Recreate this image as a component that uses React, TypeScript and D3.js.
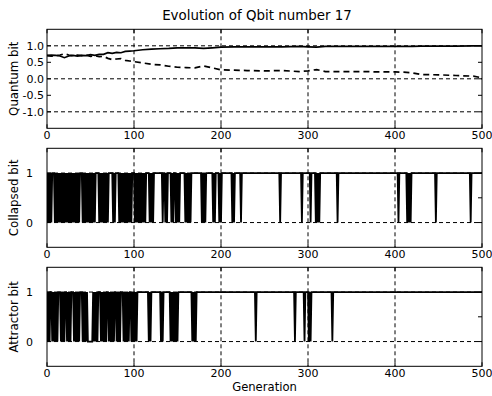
import React from 'react';
import * as d3 from 'd3';

// ---- data ----
const GENS_Q = [0,5,10,15,20,25,30,35,40,45,50,55,60,65,70,75,80,85,90,95,100,110,120,130,140,150,160,170,180,190,200,215,230,250,270,290,300,310,320,340,360,380,400,410,420,430,450,470,490,500];
const BETA = [0.70,0.69,0.70,0.72,0.76,0.72,0.70,0.72,0.70,0.72,0.68,0.70,0.67,0.68,0.62,0.58,0.60,0.61,0.56,0.54,0.52,0.48,0.44,0.42,0.38,0.35,0.34,0.33,0.39,0.33,0.27,0.26,0.25,0.24,0.25,0.22,0.24,0.28,0.22,0.22,0.22,0.21,0.21,0.20,0.18,0.13,0.12,0.10,0.08,0.03];
const ALPHA = [0.71,0.72,0.71,0.69,0.64,0.69,0.71,0.69,0.71,0.70,0.73,0.71,0.74,0.74,0.79,0.77,0.80,0.79,0.83,0.84,0.85,0.88,0.90,0.91,0.92,0.94,0.94,0.94,0.92,0.94,0.96,0.97,0.97,0.97,0.97,0.98,0.97,0.96,0.98,0.98,0.98,0.98,0.98,0.98,0.98,0.99,0.99,0.99,1.0,1.0];

// generations at which the bit was 0
const COLLAPSED_ZEROS = [
  1,3,5,9,11,13,15,17,19,21,23,25,27,29,31,33,35,37,
  41,43,45,47,49,51,53,55,60,62,64,66,68,70,76,78,
  83,85,87,89,91,93,95,97,101,103,105,107,109,111,113,118,120,122,
  133,136,138,143,145,148,150,152,159,161,163,165,178,180,182,191,193,198,200,
  213,215,223,268,293,303,309,311,313,334,404,414,416,418,447,487,
];
const ATTRACTOR_ZEROS = [
  1,3,6,8,10,12,16,18,20,23,25,27,31,33,35,37,41,43,45,47,48,49,50,51,52,
  54,56,58,62,64,66,68,71,73,75,77,80,82,84,88,90,92,94,97,99,101,103,
  117,119,131,133,142,144,146,148,150,167,169,171,240,285,296,301,303,328,
];

const N_GEN = 500;
const X_TICKS = [0, 100, 200, 300, 400, 500];
const X_GRID = [100, 200, 300, 400];
const Q_TICKS = [-1, -0.5, 0, 0.5, 1];
const Q_TICK_LABELS = ['-1.0', '-0.5', '0.0', '0.5', '1.0'];
const Q_HGRID = [-1, 0, 1];
const B_TICKS = [0, 0.5, 1];
const B_TICK_LABELS = ['0', '', '1'];
const B_HGRID = [0, 1];

const TITLE = 'Evolution of Qbit number 17';
const Y_LABELS = ['Quantum bit', 'Collapsed bit', 'Attractor bit'];
const X_LABEL = 'Generation';

const W = 492, H = 396;
const LEFT = 47, RIGHT = 482;
const TOPS = [29.3, 148.3, 267.3];
const PH = 99;
const FONT = 'DejaVu Sans, sans-serif';

function binarySeries(zeros: number[]) {
  const s = new Set(zeros);
  return d3.range(0, N_GEN + 1).map((g) => ({ g, v: s.has(g) ? 0 : 1 }));
}

export default function App() {
  const x = d3.scaleLinear().domain([0, 500]).range([LEFT, RIGHT]);
  const yQ = d3.scaleLinear().domain([-1.5, 1.5]).range([TOPS[0] + PH, TOPS[0]]);
  const yC = d3.scaleLinear().domain([-0.5, 1.5]).range([TOPS[1] + PH, TOPS[1]]);
  const yA = d3.scaleLinear().domain([-0.5, 1.5]).range([TOPS[2] + PH, TOPS[2]]);

  const lineQ = (vals: number[]) =>
    d3.line<number>().x((_, i) => x(GENS_Q[i])).y((v) => yQ(v))(vals) || '';
  const lineB = (ys: d3.ScaleLinear<number, number>, data: { g: number; v: number }[]) =>
    d3.line<{ g: number; v: number }>().x((d) => x(d.g)).y((d) => ys(d.v))(data) || '';

  const collapsed = binarySeries(COLLAPSED_ZEROS);
  const attractor = binarySeries(ATTRACTOR_ZEROS);

  const panels = [
    { top: TOPS[0], y: yQ, ticks: Q_TICKS, labels: Q_TICK_LABELS, hgrid: Q_HGRID, labelX: 44 },
    { top: TOPS[1], y: yC, ticks: B_TICKS, labels: B_TICK_LABELS, hgrid: B_HGRID, labelX: 33 },
    { top: TOPS[2], y: yA, ticks: B_TICKS, labels: B_TICK_LABELS, hgrid: B_HGRID, labelX: 33 },
  ];

  const gridDash = '4,3';
  const TL = 4;

  return (
    <svg width={W} height={H} style={{ position: 'absolute', left: 0, top: 0, background: '#fff' }} fontFamily={FONT}>
      <defs>
        {panels.map((p, i) => (
          <clipPath id={`clip${i}`} key={i}>
            <rect x={LEFT} y={p.top} width={RIGHT - LEFT} height={PH} />
          </clipPath>
        ))}
      </defs>
      <rect x={0} y={0} width={W} height={H} fill="#fff" />
      <text x={257} y={19.5} textAnchor="middle" fontSize={13.4}>{TITLE}</text>

      {panels.map((p, i) => (
        <g key={i}>
          {X_GRID.map((t) => (
            <line key={'vx' + t} x1={x(t)} x2={x(t)} y1={p.top} y2={p.top + PH} stroke="#000" strokeWidth={1} strokeDasharray={gridDash} />
          ))}
          {p.hgrid.map((t) => (
            <line key={'hy' + t} x1={LEFT} x2={RIGHT} y1={p.y(t)} y2={p.y(t)} stroke="#000" strokeWidth={1} strokeDasharray={gridDash} />
          ))}
          <g clipPath={`url(#clip${i})`}>
            {i === 0 && (
              <>
                <path d={lineQ(ALPHA)} fill="none" stroke="#000" strokeWidth={1.7} />
                <path d={lineQ(BETA)} fill="none" stroke="#000" strokeWidth={1.7} strokeDasharray="6,4" />
              </>
            )}
            {i === 1 && <path d={lineB(yC, collapsed)} fill="none" stroke="#000" strokeWidth={1.8} />}
            {i === 2 && <path d={lineB(yA, attractor)} fill="none" stroke="#000" strokeWidth={1.8} />}
          </g>
          {X_TICKS.map((t) => (
            <g key={'xt' + t}>
              <line x1={x(t)} x2={x(t)} y1={p.top + PH} y2={p.top + PH - TL} stroke="#000" />
              <line x1={x(t)} x2={x(t)} y1={p.top} y2={p.top + TL} stroke="#000" />
              <text x={x(t)} y={p.top + PH + 11} textAnchor="middle" fontSize={11}>{t}</text>
            </g>
          ))}
          {p.ticks.map((t, k) => (
            <g key={'yt' + t}>
              <line x1={LEFT} x2={LEFT + TL} y1={p.y(t)} y2={p.y(t)} stroke="#000" />
              <line x1={RIGHT} x2={RIGHT - TL} y1={p.y(t)} y2={p.y(t)} stroke="#000" />
              {p.labels[k] && (
                <text x={p.labelX} y={p.y(t)} dy="0.36em" textAnchor="end" fontSize={11}>{p.labels[k]}</text>
              )}
            </g>
          ))}
          <rect x={LEFT} y={p.top} width={RIGHT - LEFT} height={PH} fill="none" stroke="#000" strokeWidth={1} />
          <text transform={`translate(18,${p.top + PH / 2}) rotate(-90)`} textAnchor="middle" fontSize={11.8}>{Y_LABELS[i]}</text>
        </g>
      ))}
      <text x={(LEFT + RIGHT) / 2} y={391} textAnchor="middle" fontSize={11.6}>{X_LABEL}</text>
    </svg>
  );
}
